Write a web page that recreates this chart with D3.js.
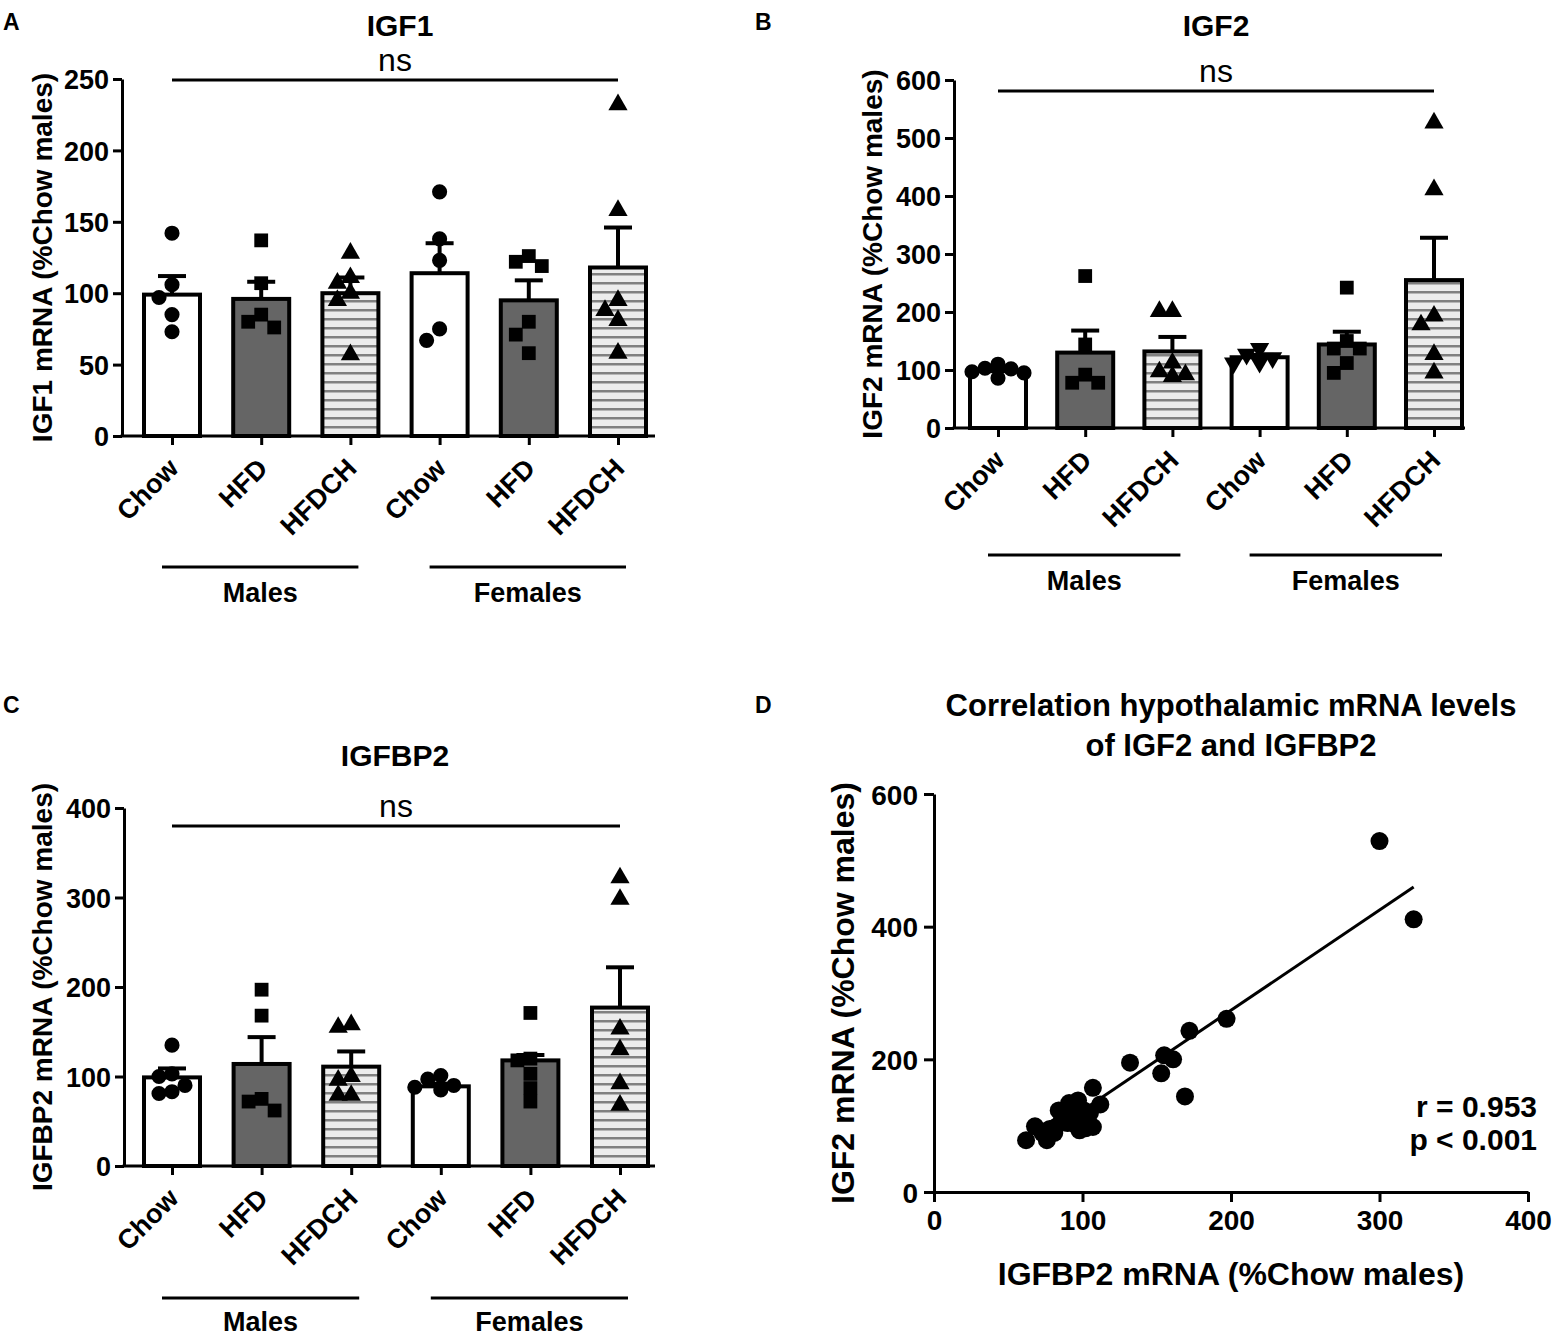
<!DOCTYPE html>
<html>
<head>
<meta charset="utf-8">
<script src="https://cdn.jsdelivr.net/npm/d3@7"></script>
<style>
body { margin: 0; background: #fff; }
text { font-family: "Liberation Sans", Arial, sans-serif; font-weight: bold; fill: #000; }
</style>
</head>
<body>
<svg id="fig" width="1556" height="1338"></svg>
<script>
// groups on the x axis of the bar panels
var groups = ["Chow", "HFD", "HFDCH", "Chow", "HFD", "HFDCH"];
var sexes = ["Males", "Females"];

// IGF1 (panel A)
var igf1Mean = [99, 96, 100, 114, 95, 118];
var igf1Sem = [13, 12, 11, 21, 14, 28];
var igf1Points = [
  [142, 106, 97, 85, 73],
  [137, 107, 85, 76, 80],
  [128, 111, 107, 100, 95, 57],
  [171, 138, 123, 75, 67],
  [119, 122, 126, 80, 71, 58],
  [232, 158, 95, 88, 81, 58]
];

// IGF2 (panel B)
var igf2Mean = [98, 130, 132, 122, 144, 255];
var igf2Sem = [3, 38, 25, 4, 22, 73];
var igf2Points = [
  [97, 110, 103, 102, 95, 86],
  [262, 144, 92, 78, 78],
  [201, 201, 112, 92, 89, 97],
  [127, 137, 112, 121, 113],
  [242, 150, 137, 137, 112, 95],
  [526, 411, 193, 178, 127, 95]
];

// IGFBP2 (panel C)
var igfbp2Mean = [99, 114, 111, 89, 118, 177];
var igfbp2Sem = [10, 30, 17, 3, 6, 45];
var igfbp2Points = [
  [135, 100, 103, 90, 81, 83],
  [197, 168, 75, 72, 62],
  [158, 155, 96, 79, 79, 100],
  [101, 97, 90, 88, 85],
  [171, 120, 118, 103, 87, 72],
  [322, 298, 153, 130, 92, 68]
];

// panel D: IGFBP2 (x) vs IGF2 (y)
var corrX = [300, 323, 197, 172, 132, 155, 161, 153, 169, 107, 112, 62, 68, 76, 82, 84, 91, 97, 102, 107, 98, 86, 81, 73, 94, 101, 105, 90, 97, 88, 93, 100, 104, 78, 96];
var corrY = [529, 411, 261, 243, 195, 206, 200, 179, 144, 157, 132, 78, 99, 78, 98, 123, 134, 138, 96, 98, 93, 108, 89, 89, 113, 123, 119, 104, 104, 118, 128, 110, 102, 95, 100];
var fitSlope = 1.51, fitIntercept = -28;
var fitRange = [70, 323];

var fills = ["#ffffff", "#656565", "url(#hatch)", "#ffffff", "#656565", "url(#hatch)"];

var svg = d3.select("#fig");

// hatch for the HFDCH bars
var pat = svg.append("defs").append("pattern")
    .attr("id", "hatch")
    .attr("patternUnits", "userSpaceOnUse")
    .attr("width", 10).attr("height", 9);
pat.append("rect").attr("width", 10).attr("height", 9).attr("fill", "#ececec");
pat.append("rect").attr("y", 3).attr("width", 10).attr("height", 2.5).attr("fill", "#808080");

function symbolFor(shape) {
    if (shape == "circle") return d3.symbol().type(d3.symbolCircle).size(180);
    if (shape == "square") return d3.symbol().type(d3.symbolSquare).size(190);
    // triangles (the "down" one is rotated when placed)
    return d3.symbol().type(d3.symbolTriangle).size(160);
}

//spread points sideways so they do not sit on each other
function swarm(vals, y, cx) {
    var placed = [];
    var sorted = vals.slice().sort(function(a, b){ return b - a; });
    sorted.forEach(function(v) {
        var py = y(v);
        var offs = [0, -13, 13, -26, 26, -39, 39];
        for (var k = 0; k < offs.length; k++) {
            var px = cx + offs[k];
            var ok = placed.every(function(p){ return Math.hypot(p.x - px, p.y - py) >= 13; });
            if (ok) { placed.push({x: px, y: py, v: v}); return; }
        }
        placed.push({x: cx, y: py, v: v});
    });
    return placed;
}

function drawBarPanel(c) {
    var g = svg.append("g");
    var y = d3.scaleLinear().domain([0, c.yMax]).range([c.bottom, c.top]);
    var x = d3.scalePoint().domain(d3.range(groups.length)).range([c.first, c.last]);
    var bw = 56;

    // bars
    g.selectAll(".bar")
        .data(c.mean)
        .enter().append("rect")
        .attr("x", function(d, i){ return x(i) - bw / 2; })
        .attr("y", function(d){ return y(d); })
        .attr("width", bw)
        .attr("height", function(d){ return c.bottom - y(d); })
        .attr("fill", function(d, i){ return fills[i]; })
        .attr("stroke", "#000")
        .attr("stroke-width", 4);

    // SEM whiskers (upper only)
    c.mean.forEach(function(m, i) {
        var top = y(m + c.sem[i]);
        g.append("line").attr("x1", x(i)).attr("x2", x(i))
            .attr("y1", y(m)).attr("y2", top)
            .attr("stroke", "#000").attr("stroke-width", 4);
        g.append("line").attr("x1", x(i) - 14).attr("x2", x(i) + 14)
            .attr("y1", top).attr("y2", top)
            .attr("stroke", "#000").attr("stroke-width", 4);
    });

    // individual animals
    c.points.forEach(function(vals, i) {
        var shape = c.shapes[i];
        var sym = symbolFor(shape);
        var pts = swarm(vals, y, x(i));
        g.selectAll(".pt" + i)
            .data(pts)
            .enter().append("path")
            .attr("d", sym)
            .attr("fill", "#000")
            .attr("transform", function(d){
                return "translate(" + d.x + "," + d.y + ")" + (shape == "down" ? " rotate(180)" : "");
            });
    });

    // y axis
    var yAxis = g.append("g")
        .attr("transform", "translate(" + c.axisX + ",0)")
        .call(d3.axisLeft(y).tickValues(c.ticks).tickSize(9).tickSizeOuter(0).tickPadding(4));
    yAxis.select(".domain").attr("stroke-width", 3);
    yAxis.selectAll(".tick line").attr("stroke-width", 3);
    yAxis.selectAll(".tick text").style("font-size", "27px").attr("dy", "0.36em");

    // x axis
    var xAxis = g.append("g")
        .attr("transform", "translate(0," + c.bottom + ")")
        .call(d3.axisBottom(x).tickSize(9).tickFormat(""));
    xAxis.select(".domain").remove();
    xAxis.selectAll(".tick line").attr("stroke-width", 3);
    g.append("line").attr("x1", c.axisX - 1.5).attr("x2", c.right)
        .attr("y1", c.bottom).attr("y2", c.bottom)
        .attr("stroke", "#000").attr("stroke-width", 3);

    g.selectAll(".xlab")
        .data(groups)
        .enter().append("text")
        .attr("text-anchor", "end")
        .style("font-size", "27px")
        .attr("transform", function(d, i){
            return "translate(" + (x(i) + 8) + "," + (c.bottom + 34) + ") rotate(-45)";
        })
        .text(function(d){ return d; });

    // Males / Females brackets
    [[0, 2], [3, 5]].forEach(function(r, k) {
        var x1 = x(r[0]) - 10, x2 = x(r[1]) + 8;
        g.append("line").attr("x1", x1).attr("x2", x2)
            .attr("y1", c.groupLineY).attr("y2", c.groupLineY)
            .attr("stroke", "#000").attr("stroke-width", 3);
        g.append("text").attr("x", (x1 + x2) / 2).attr("y", c.groupLabelY)
            .attr("text-anchor", "middle").style("font-size", "27px")
            .text(sexes[k]);
    });

    // ns line
    g.append("line").attr("x1", x(0)).attr("x2", x(5))
        .attr("y1", c.nsY).attr("y2", c.nsY)
        .attr("stroke", "#000").attr("stroke-width", 3);
    g.append("text").attr("x", (x(0) + x(5)) / 2).attr("y", c.nsY - 9)
        .attr("text-anchor", "middle").style("font-size", "32px").style("font-weight", "normal")
        .text("ns");

    // titles
    g.append("text").attr("x", c.titleX).attr("y", c.titleY)
        .attr("text-anchor", "middle").style("font-size", "30px").text(c.title);
    g.append("text").attr("x", c.letterX).attr("y", c.letterY)
        .style("font-size", "23px").text(c.letter);
    g.append("text")
        .attr("transform", "translate(" + c.ylabelX + "," + ((c.top + c.bottom) / 2) + ") rotate(-90)")
        .attr("text-anchor", "middle").attr("dy", "0.35em")
        .style("font-size", "28px").text(c.ylabel);
}

drawBarPanel({
    mean: igf1Mean, sem: igf1Sem, points: igf1Points,
    shapes: ["circle", "square", "tri", "circle", "square", "tri"],
    axisX: 122, right: 655, top: 79, bottom: 436, yMax: 250, ticks: [0, 50, 100, 150, 200, 250],
    first: 172, last: 618, nsY: 80, groupLineY: 567, groupLabelY: 602,
    title: "IGF1", titleX: 400, titleY: 36, letter: "A", letterX: 3, letterY: 30,
    ylabel: "IGF1 mRNA (%Chow males)", ylabelX: 42
});

drawBarPanel({
    mean: igf2Mean, sem: igf2Sem, points: igf2Points,
    shapes: ["circle", "square", "tri", "down", "square", "tri"],
    axisX: 954, right: 1465, top: 80, bottom: 428, yMax: 600, ticks: [0, 100, 200, 300, 400, 500, 600],
    first: 998, last: 1434, nsY: 91, groupLineY: 555, groupLabelY: 590,
    title: "IGF2", titleX: 1216, titleY: 36, letter: "B", letterX: 755, letterY: 30,
    ylabel: "IGF2 mRNA (%Chow males)", ylabelX: 872
});

drawBarPanel({
    mean: igfbp2Mean, sem: igfbp2Sem, points: igfbp2Points,
    shapes: ["circle", "square", "tri", "circle", "square", "tri"],
    axisX: 124, right: 655, top: 808, bottom: 1166, yMax: 400, ticks: [0, 100, 200, 300, 400],
    first: 172, last: 620, nsY: 826, groupLineY: 1298, groupLabelY: 1331,
    title: "IGFBP2", titleX: 395, titleY: 766, letter: "C", letterX: 3, letterY: 713,
    ylabel: "IGFBP2 mRNA (%Chow males)", ylabelX: 42
});

// ---- panel D: correlation ----
var gd = svg.append("g");
var dx = d3.scaleLinear().domain([0, 400]).range([934, 1528]);
var dy = d3.scaleLinear().domain([0, 600]).range([1192, 794]);

var xAx = gd.append("g").attr("transform", "translate(0,1192)")
    .call(d3.axisBottom(dx).tickValues([0, 100, 200, 300, 400]).tickSize(10).tickSizeOuter(0).tickPadding(8));
var yAx = gd.append("g").attr("transform", "translate(934,0)")
    .call(d3.axisLeft(dy).tickValues([0, 200, 400, 600]).tickSize(10).tickSizeOuter(0).tickPadding(6));
[xAx, yAx].forEach(function(a) {
    a.select(".domain").attr("stroke-width", 3);
    a.selectAll(".tick line").attr("stroke-width", 3);
    a.selectAll(".tick text").style("font-size", "28px");
});
yAx.selectAll(".tick text").attr("dy", "0.36em");

gd.selectAll(".dot")
    .data(corrX)
    .enter().append("circle")
    .attr("cx", function(d){ return dx(d); })
    .attr("cy", function(d, i){ return dy(corrY[i]); })
    .attr("r", 9)
    .attr("fill", "#000");

gd.append("line")
    .attr("x1", dx(fitRange[0])).attr("y1", dy(fitIntercept + fitSlope * fitRange[0]))
    .attr("x2", dx(fitRange[1])).attr("y2", dy(fitIntercept + fitSlope * fitRange[1]))
    .attr("stroke", "#000").attr("stroke-width", 3);

gd.append("text").attr("x", 1537).attr("y", 1117).attr("text-anchor", "end")
    .style("font-size", "30px").text("r = 0.953");
gd.append("text").attr("x", 1537).attr("y", 1150).attr("text-anchor", "end")
    .style("font-size", "30px").text("p < 0.001");

gd.append("text").attr("x", 1231).attr("y", 716).attr("text-anchor", "middle")
    .style("font-size", "31px").text("Correlation hypothalamic mRNA levels");
gd.append("text").attr("x", 1231).attr("y", 756).attr("text-anchor", "middle")
    .style("font-size", "31px").text("of IGF2 and IGFBP2");
gd.append("text").attr("x", 755).attr("y", 713).style("font-size", "23px").text("D");

gd.append("text").attr("x", 1231).attr("y", 1285).attr("text-anchor", "middle")
    .style("font-size", "32px").text("IGFBP2 mRNA (%Chow males)");
gd.append("text")
    .attr("transform", "translate(843,993) rotate(-90)")
    .attr("text-anchor", "middle").attr("dy", "0.35em")
    .style("font-size", "32px").text("IGF2 mRNA (%Chow males)");
</script>
</body>
</html>
